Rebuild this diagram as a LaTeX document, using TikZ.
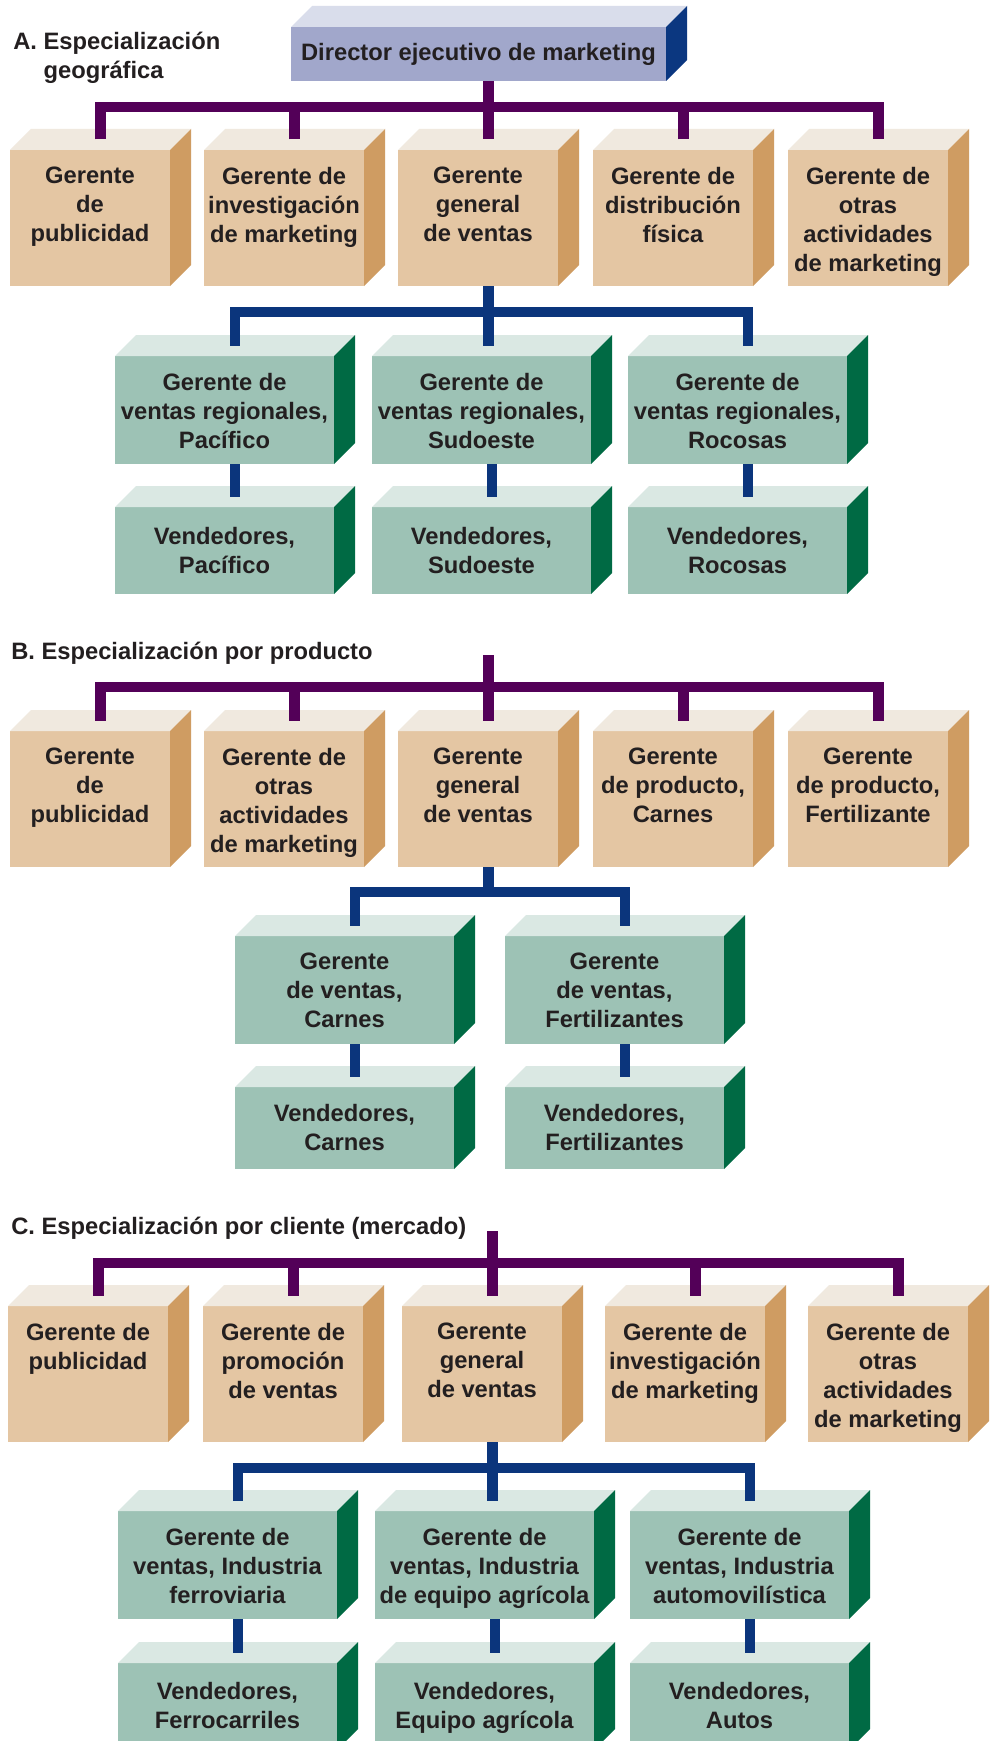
\documentclass[tikz,border=0pt]{standalone}
\usepackage{fontspec}
\setmainfont{Liberation Sans}
\usetikzlibrary{calc}
\definecolor{tanF}{HTML}{E4C6A3}
\definecolor{tanT}{HTML}{F0E9DF}
\definecolor{tanS}{HTML}{CF9C62}
\definecolor{grnF}{HTML}{9DC2B5}
\definecolor{grnT}{HTML}{DAE8E3}
\definecolor{grnS}{HTML}{006A44}
\definecolor{dirF}{HTML}{A1A7CB}
\definecolor{dirT}{HTML}{D9DDEB}
\definecolor{dirS}{HTML}{0B3780}
\definecolor{purpC}{HTML}{530058}
\definecolor{bluC}{HTML}{0B357C}
\definecolor{txtC}{HTML}{231F20}
\tikzset{
  face/.style={draw=none, inner sep=0pt, outer sep=0pt},
  txt/.style={font=\fontsize{17.8pt}{21.75pt}\selectfont\bfseries, text=txtC, align=center, inner sep=0pt},
  ttl/.style={font=\fontsize{17.8pt}{21.75pt}\selectfont\bfseries, text=txtC, align=left, inner sep=0pt},
  purp/.style={draw=purpC, line width=7.8pt},
  blu/.style={draw=bluC, line width=7.8pt}
}
% name, x, y, w, h, kind, text anchor, yshift, text
\newcommand\cubo[9]{%
  \node[face, fill=#6F, minimum width=#4*0.75pt, minimum height=#5*0.75pt, anchor=north west] (#1) at (#2,#3) {};
  \fill[#6T] (#1.north west) -- ++(21,-21) -- ++(#4,0) -- (#1.north east) -- cycle;
  \fill[#6S] (#1.north east) -- ++(21,-21) -- ++(0,#5) -- (#1.south east) -- cycle;
  \coordinate (#1t) at ([xshift=7.875pt,yshift=7.875pt]#1.north);
  \node[txt, anchor=#7] (#1x) at ([yshift=#8]#1.#7) {#9};
}
\begin{document}
\begin{tikzpicture}[x=0.75pt,y=-0.75pt]
\clip (0,0) rectangle (991,1741);
\fill[white] (0,0) rectangle (991,1741);

% ---------------- A ----------------
\node[ttl, anchor=north west] (tA) at (13,32) {A. Especialización\\\phantom{A. }geográfica};
\cubo{dir}{291}{27}{375}{54}{dir}{center}{0pt}{Director ejecutivo de marketing}
\cubo{a1}{10}{150}{160}{136}{tan}{north}{-12.75pt}{Gerente\\de\\publicidad}
\cubo{a2}{204}{150}{160}{136}{tan}{north}{-12.75pt}{Gerente de\\investigación\\de marketing}
\cubo{a3}{398}{150}{160}{136}{tan}{north}{-12.75pt}{Gerente\\general\\de ventas}
\cubo{a4}{593}{150}{160}{136}{tan}{north}{-12.75pt}{Gerente de\\distribución\\física}
\cubo{a5}{788}{150}{160}{136}{tan}{north}{-12.75pt}{Gerente de\\otras\\actividades\\de marketing}
\cubo{ag1}{115}{356}{219}{108}{grn}{north}{-12.75pt}{Gerente de\\ventas regionales,\\Pacífico}
\cubo{ag2}{372}{356}{219}{108}{grn}{north}{-12.75pt}{Gerente de\\ventas regionales,\\Sudoeste}
\cubo{ag3}{628}{356}{219}{108}{grn}{north}{-12.75pt}{Gerente de\\ventas regionales,\\Rocosas}
\cubo{av1}{115}{507}{219}{87}{grn}{center}{0pt}{Vendedores,\\Pacífico}
\cubo{av2}{372}{507}{219}{87}{grn}{center}{0pt}{Vendedores,\\Sudoeste}
\cubo{av3}{628}{507}{219}{87}{grn}{center}{0pt}{Vendedores,\\Rocosas}

\coordinate (Abar) at (0,107);
\draw[purp] (a1t) -- (a1t |- Abar) -- (a5t |- Abar) -- (a5t);
\draw[purp] (a3t |- dir.south) -- (a3t);
\draw[purp] (a2t) -- (a2t |- Abar);
\draw[purp] (a4t) -- (a4t |- Abar);
\coordinate (Abb) at (0,312);
\draw[blu] (ag1t) -- (ag1t |- Abb) -- (ag3t |- Abb) -- (ag3t);
\draw[blu] (a3t |- a3.south) -- (a3t |- ag2t);
\draw[blu] (ag1t |- ag1.south) -- (av1t);
\draw[blu] (ag2t |- ag2.south) -- (av2t);
\draw[blu] (ag3t |- ag3.south) -- (av3t);

% ---------------- B ----------------
\node[ttl, anchor=base west] (tB) at (11,659) {B. Especialización por producto};
\cubo{b1}{10}{731}{160}{136}{tan}{north}{-12.75pt}{Gerente\\de\\publicidad}
\cubo{b2}{204}{731}{160}{136}{tan}{north}{-12.75pt}{Gerente de\\otras\\actividades\\de marketing}
\cubo{b3}{398}{731}{160}{136}{tan}{north}{-12.75pt}{Gerente\\general\\de ventas}
\cubo{b4}{593}{731}{160}{136}{tan}{north}{-12.75pt}{Gerente\\de producto,\\Carnes}
\cubo{b5}{788}{731}{160}{136}{tan}{north}{-12.75pt}{Gerente\\de producto,\\Fertilizante}
\cubo{bg1}{235}{936}{219}{108}{grn}{north}{-12.75pt}{Gerente\\de ventas,\\Carnes}
\cubo{bg2}{505}{936}{219}{108}{grn}{north}{-12.75pt}{Gerente\\de ventas,\\Fertilizantes}
\cubo{bv1}{235}{1087}{219}{82}{grn}{center}{0pt}{Vendedores,\\Carnes}
\cubo{bv2}{505}{1087}{219}{82}{grn}{center}{0pt}{Vendedores,\\Fertilizantes}

\coordinate (Btop) at (0,655);
\coordinate (Bbar) at (0,687);
\draw[purp] (b1t) -- (b1t |- Bbar) -- (b5t |- Bbar) -- (b5t);
\draw[purp] (b3t |- Btop) -- (b3t);
\draw[purp] (b2t) -- (b2t |- Bbar);
\draw[purp] (b4t) -- (b4t |- Bbar);
\coordinate (Bbb) at (0,892);
\draw[blu] (bg1t) -- (bg1t |- Bbb) -- (bg2t |- Bbb) -- (bg2t);
\draw[blu] (b3t |- b3.south) -- (b3t |- Bbb);
\draw[blu] (bg1t |- bg1.south) -- (bv1t);
\draw[blu] (bg2t |- bg2.south) -- (bv2t);

% ---------------- C ----------------
\node[ttl, anchor=base west] (tC) at (11,1234) {C. Especialización por cliente (mercado)};
\cubo{c1}{8}{1306}{160}{136}{tan}{north}{-12.75pt}{Gerente de\\publicidad}
\cubo{c2}{203}{1306}{160}{136}{tan}{north}{-12.75pt}{Gerente de\\promoción\\de ventas}
\cubo{c3}{402}{1306}{160}{136}{tan}{north}{-12.75pt}{Gerente\\general\\de ventas}
\cubo{c4}{605}{1306}{160}{136}{tan}{north}{-12.75pt}{Gerente de\\investigación\\de marketing}
\cubo{c5}{808}{1306}{160}{136}{tan}{north}{-12.75pt}{Gerente de\\otras\\actividades\\de marketing}
\cubo{cg1}{118}{1511}{219}{108}{grn}{north}{-12.75pt}{Gerente de\\ventas, Industria\\ferroviaria}
\cubo{cg2}{375}{1511}{219}{108}{grn}{north}{-12.75pt}{Gerente de\\ventas, Industria\\de equipo agrícola}
\cubo{cg3}{630}{1511}{219}{108}{grn}{north}{-12.75pt}{Gerente de\\ventas, Industria\\automovilística}
\cubo{cv1}{118}{1663}{219}{87}{grn}{north}{-14.25pt}{Vendedores,\\Ferrocarriles}
\cubo{cv2}{375}{1663}{219}{87}{grn}{north}{-14.25pt}{Vendedores,\\Equipo agrícola}
\cubo{cv3}{630}{1663}{219}{87}{grn}{north}{-14.25pt}{Vendedores,\\Autos}

\coordinate (Ctop) at (0,1231);
\coordinate (Cbar) at (0,1263);
\draw[purp] (c1t) -- (c1t |- Cbar) -- (c5t |- Cbar) -- (c5t);
\draw[purp] (c3t |- Ctop) -- (c3t);
\draw[purp] (c2t) -- (c2t |- Cbar);
\draw[purp] (c4t) -- (c4t |- Cbar);
\coordinate (Cbb) at (0,1468);
\draw[blu] (cg1t) -- (cg1t |- Cbb) -- (cg3t |- Cbb) -- (cg3t);
\draw[blu] (c3t |- c3.south) -- (c3t |- cg2t);
\draw[blu] (cg1t |- cg1.south) -- (cv1t);
\draw[blu] (cg2t |- cg2.south) -- (cv2t);
\draw[blu] (cg3t |- cg3.south) -- (cv3t);
\end{tikzpicture}
\end{document}
